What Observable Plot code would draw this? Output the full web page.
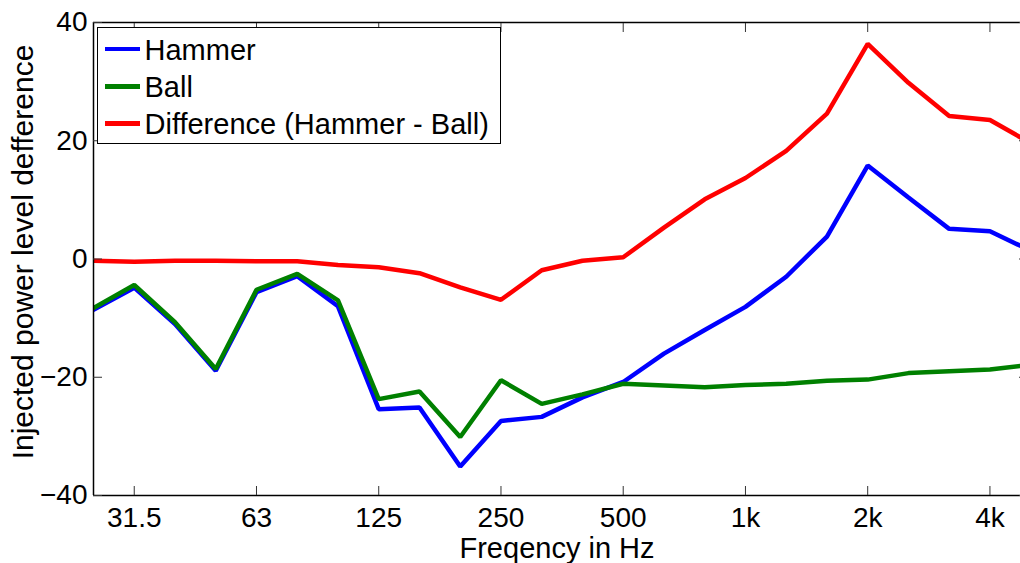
<!DOCTYPE html>
<html>
<head>
<meta charset="utf-8">
<script src="https://cdn.jsdelivr.net/npm/d3@7"></script>
<script src="https://cdn.jsdelivr.net/npm/@observablehq/plot@0.6"></script>
<style>
  body { margin: 0; background: #fff; overflow: hidden; }
  #chart { position: relative; width: 1020px; height: 563px; }
  .legend {
    position: absolute; left: 97px; top: 27px; width: 404px; height: 117px;
    box-sizing: border-box; border: 1.5px solid #000; background: #fff;
    padding-top: 2.5px;
    font-family: "Liberation Sans", Arial, Helvetica, sans-serif; font-size: 29px; color: #000;
  }
  .legend .row { display: flex; align-items: center; height: 37.2px; white-space: nowrap; }
  .legend .swatch { width: 35px; height: 4.5px; margin-left: 6.5px; margin-right: 5px; }
  .legend .name { position: relative; top: 1.5px; line-height: 37.2px; }
</style>
</head>
<body>
<div id="chart"></div>
<script>
// One-third-octave band centre frequencies
const bands = ["25", "31.5", "40", "50", "63", "80", "100", "125", "160", "200", "250", "315",
               "400", "500", "630", "800", "1k", "1.25k", "1.6k", "2k", "2.5k", "3.15k", "4k", "5k"];

// Injected power level per band (dB)
const hammer = [-8.6, -4.85, -11.0, -18.9, -5.6, -2.9, -8.0, -25.4, -25.1, -35.1, -27.4, -26.7,
                -23.4, -20.8, -16.0, -12.0, -8.1, -3.0, 3.8, 15.8, 10.4, 5.1, 4.7, 1.4];
const ball = [-8.3, -4.4, -10.7, -18.6, -5.2, -2.5, -7.0, -23.7, -22.4, -30.1, -20.5, -24.5,
              -22.9, -21.1, -21.4, -21.7, -21.3, -21.1, -20.6, -20.4, -19.3, -19.0, -18.7, -17.9];
const difference = [-0.3, -0.45, -0.3, -0.3, -0.4, -0.4, -1.0, -1.4, -2.4, -4.8, -6.9, -1.9,
                    -0.3, 0.3, 5.3, 10.1, 13.7, 18.3, 24.6, 36.4, 29.8, 24.2, 23.5, 19.6];

const seriesNames = ["Hammer", "Ball", "Difference (Hammer - Ball)"];
const seriesColors = ["#0000ff", "#008000", "#ff0000"];
const seriesValues = [hammer, ball, difference];

// Labelled octave bands on the frequency axis
const tickBands = ["31.5", "63", "125", "250", "500", "1k", "2k", "4k"];
const yTicks = [-40, -20, 0, 20, 40];

const tickIndex = tickBands.map(b => bands.indexOf(b));

const plot = Plot.plot({
  width: 1020,
  height: 563,
  marginLeft: 93,
  marginRight: 0,
  marginTop: 22,
  marginBottom: 68,
  style: {
    fontFamily: "'Liberation Sans', Arial, Helvetica, sans-serif",
    fontSize: "28px",
    color: "#000",
    background: "#fff",
    overflow: "visible"
  },
  x: {type: "linear", domain: [0, 22.75]},
  y: {domain: [-40, 40]},
  marks: [
    ...seriesValues.map((values, k) =>
      Plot.line(values, {
        x: (d, i) => i,
        y: d => d,
        stroke: seriesColors[k],
        strokeWidth: 4.5,
        strokeLinejoin: "miter",
        clip: true
      })
    ),
    // box edges
    Plot.ruleY([-40, 40], {stroke: "#000", strokeWidth: 1.5}),
    Plot.ruleX([0], {stroke: "#000", strokeWidth: 1.5}),
    // inward ticks
    Plot.axisX(tickIndex, {anchor: "bottom", tickSize: -9, tickPadding: 21, tickFormat: i => bands[i], label: null, stroke: "#333"}),
    Plot.axisX(tickIndex, {anchor: "top", tickSize: -9, tickFormat: () => "", label: null, stroke: "#333"}),
    Plot.axisY(yTicks, {anchor: "left", tickSize: -9, tickPadding: 15, label: null, stroke: "#333"}),
    Plot.axisY(yTicks, {anchor: "right", tickSize: -2, tickFormat: () => "", label: null, stroke: "#333"}),
    // axis titles
    Plot.axisX([], {anchor: "bottom", label: "Freqency in Hz", labelAnchor: "center", labelArrow: "none", labelOffset: 62, fontSize: 29}),
    Plot.axisY([], {anchor: "left", label: "Injected power level defference", labelAnchor: "center", labelArrow: "none", labelOffset: 82, fontSize: 30})
  ]
});

// centre the vertical title slightly above the middle of the axes
plot.querySelectorAll('[aria-label="y-axis label"]').forEach(g => {
  g.setAttribute("transform", `translate(0,-7) ${g.getAttribute("transform") || ""}`);
});

const chart = document.getElementById("chart");
chart.appendChild(plot);

// Legend box in the upper-left corner of the axes
const legend = document.createElement("div");
legend.className = "legend";
seriesNames.forEach((name, k) => {
  const row = document.createElement("div");
  row.className = "row";
  const sw = document.createElement("span");
  sw.className = "swatch";
  sw.style.background = seriesColors[k];
  const label = document.createElement("span");
  label.className = "name";
  label.textContent = name;
  row.appendChild(sw);
  row.appendChild(label);
  legend.appendChild(row);
});
chart.appendChild(legend);
</script>
</body>
</html>
